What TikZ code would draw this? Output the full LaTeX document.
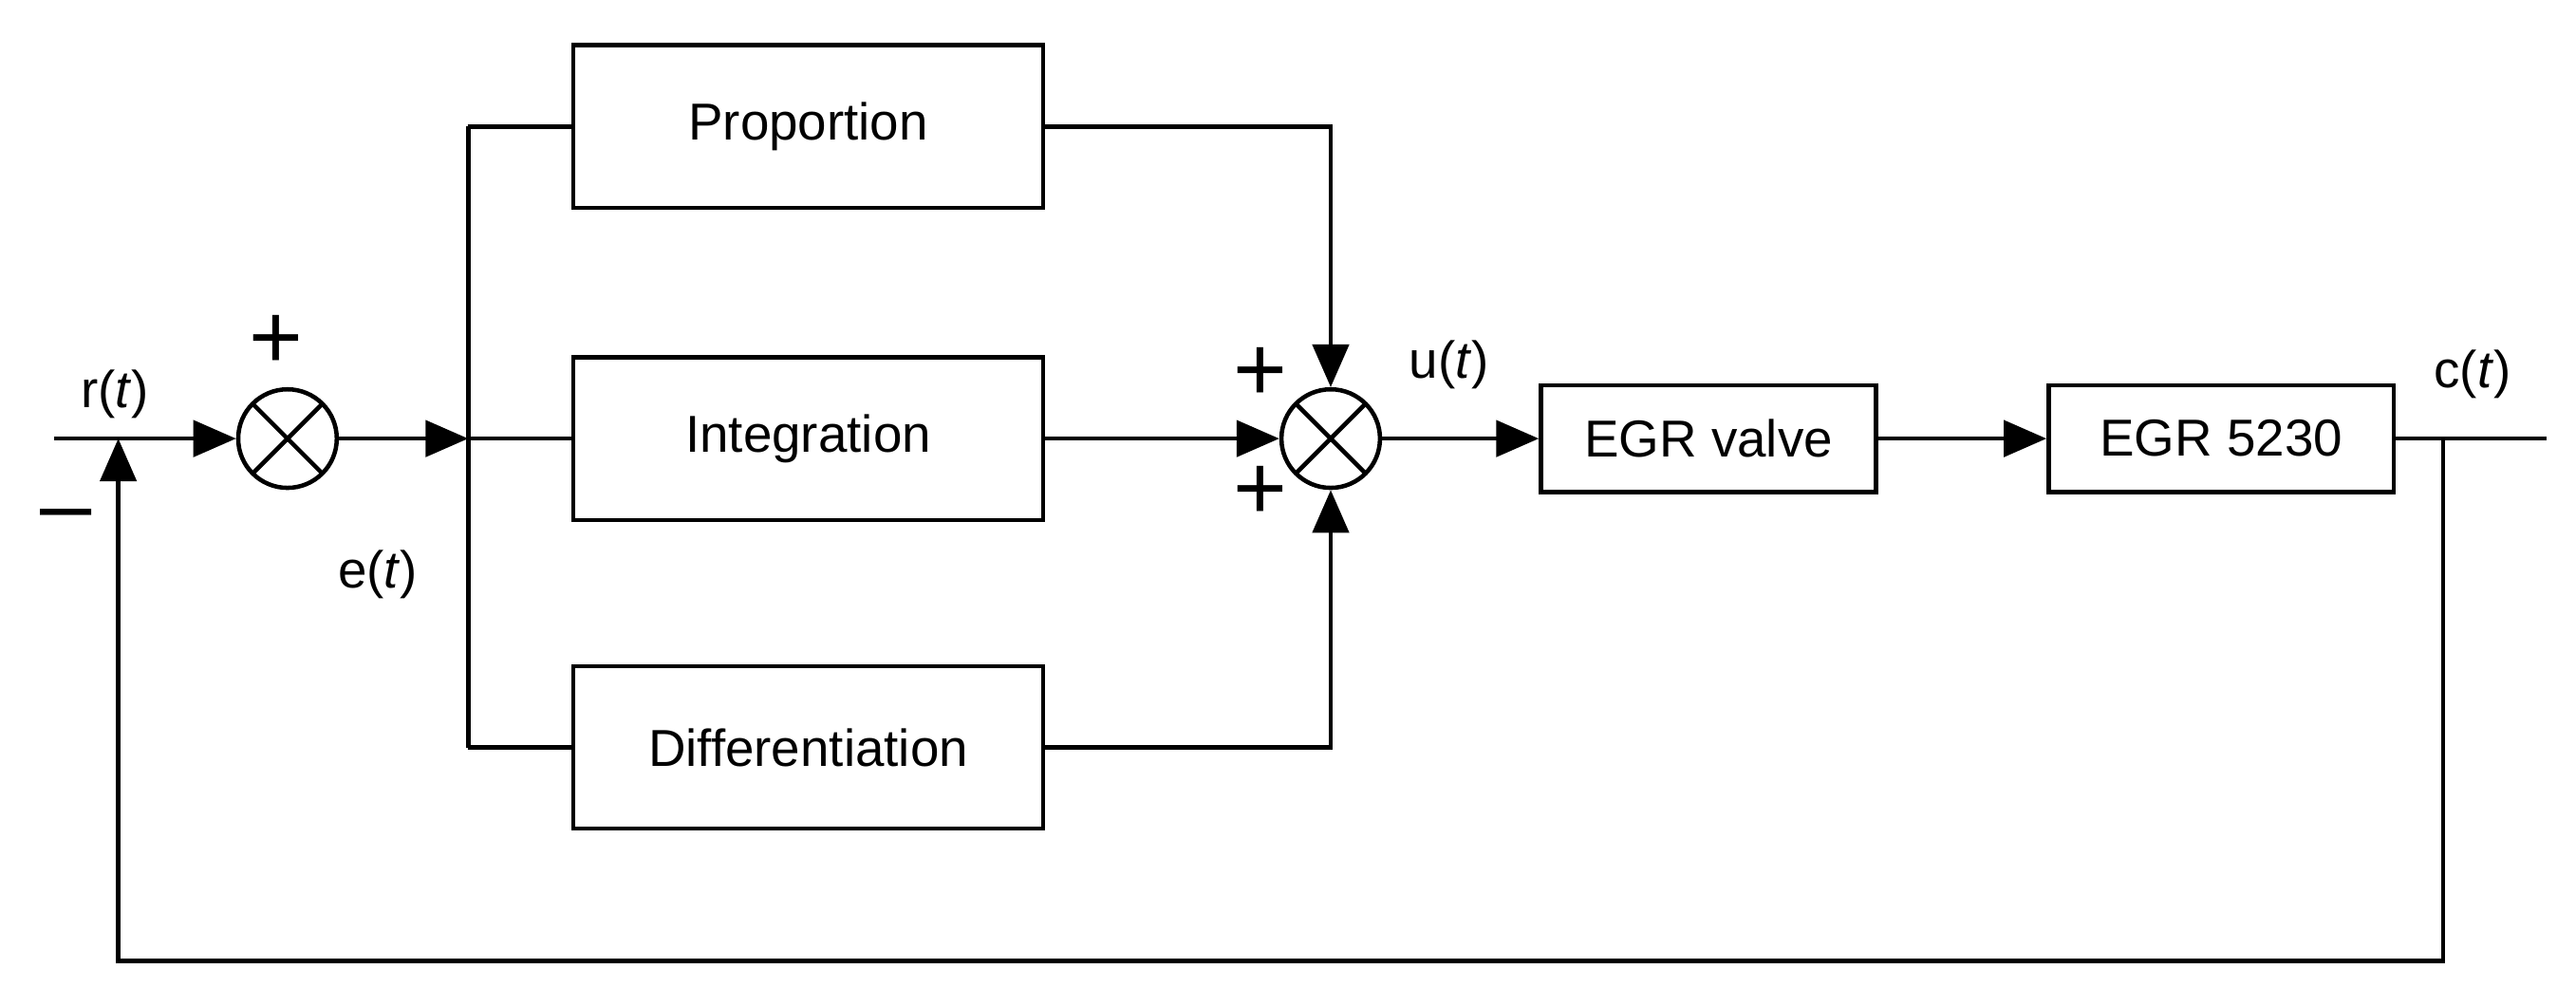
\documentclass[tikz,border=0pt]{standalone}
\usepackage{fontspec}
\setmainfont{Liberation Sans}
\usetikzlibrary{arrows.meta}
\begin{document}
\begin{tikzpicture}[x=0.1mm,y=-0.1mm,line width=0.75pt,
  every node/.style={font=\fontsize{9}{10}\selectfont},
  blk/.style={draw,rectangle,inner sep=0pt},
  sum/.style={draw,circle,minimum size=6mm,inner sep=0pt,path picture={
    \draw (path picture bounding box.north west)--(path picture bounding box.south east)
          (path picture bounding box.north east)--(path picture bounding box.south west);}},
  sgn/.style={font=\fontsize{16}{16}\selectfont,inner sep=0pt},
  arr/.style={-{Triangle[length=2.6mm,width=2.2mm]}}]
\useasboundingbox (0,0) rectangle (1568,612);
% summing points
\node[sum] (s1) at (175,267) {};
\node[sum] (s2) at (810,267) {};
% blocks
\node[blk,minimum width=28.6mm,minimum height=9.9mm] (P) at (492,77) {Proportion};
\node[blk,minimum width=28.6mm,minimum height=9.9mm] (I) at (492,267) {Integration};
\node[blk,minimum width=28.6mm,minimum height=9.9mm] (D) at (492,455) {Differentiation};
\node[blk,minimum width=20.4mm,minimum height=6.5mm] (V) at (1040,267) {EGR valve};
\node[blk,minimum width=21mm,minimum height=6.5mm] (E) at (1352,267) {EGR 5230};
% helper points
\coordinate (in) at (33,267);
\coordinate (fb) at (72,267);
\coordinate (br) at (285,267);
\coordinate (tap) at (1487,267);
\coordinate (out) at (1550,267);
% signals
\draw[arr] (in) -- (s1);
\draw[arr] (s1) -- (br);
\draw (br) -- (I);
\draw (br |- P) -- (br |- D);
\draw (br |- P) -- (P);
\draw (br |- D) -- (D);
\draw[arr] (I) -- (s2);
\draw[arr] (P.east) -| (s2.north);
\draw[arr] (D.east) -| (s2.south);
\draw[arr] (s2) -- (V);
\draw[arr] (V) -- (E);
\draw (E) -- (out);
\draw[arr] (tap) -- (1487,585) -| (fb);
% labels
\node at (70,240) {r(\textit{t})};
\node at (230,350) {e(\textit{t})};
\node at (882,222) {u(\textit{t})};
\node at (1505,228) {c(\textit{t})};
\node[sgn] at (168,208) {+};
\node[sgn] at (40,318) {\textendash};
\node[sgn] at (767,228) {+};
\node[sgn] at (767,300) {+};
\end{tikzpicture}
\end{document}
